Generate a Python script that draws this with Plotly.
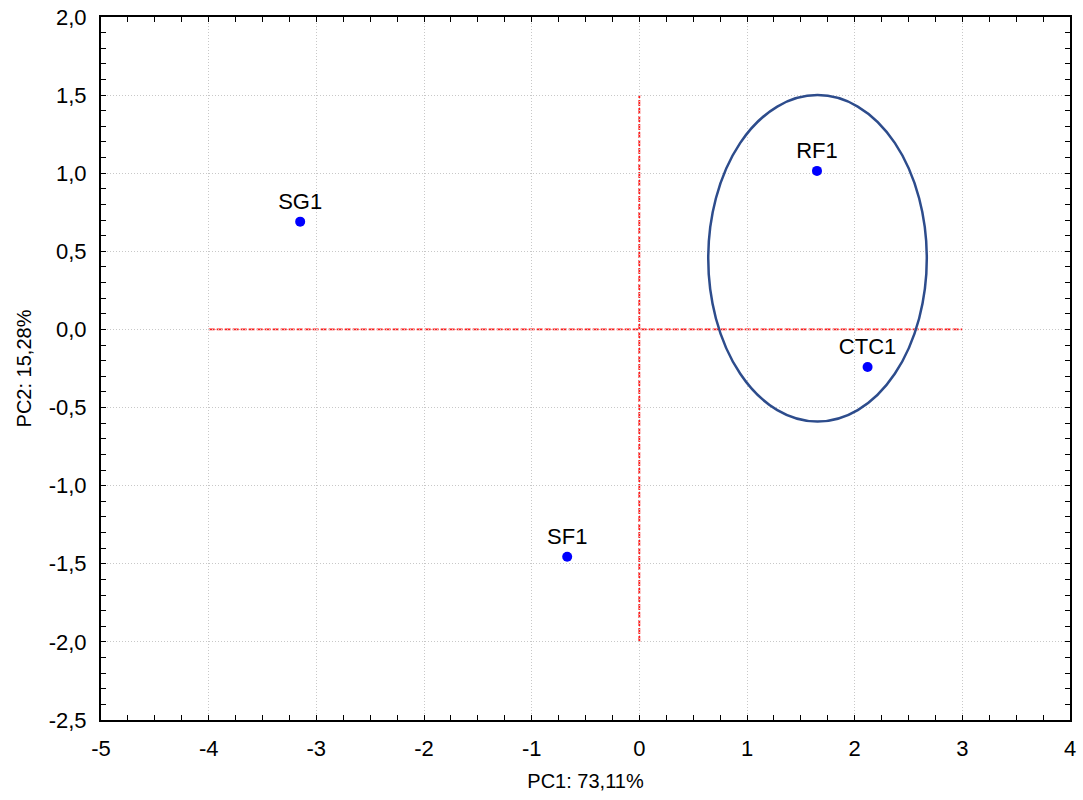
import plotly.graph_objects as go

labels = ["SG1", "SF1", "RF1", "CTC1"]
pc1 = [-3.15, -0.67, 1.65, 2.12]
pc2 = [0.69, -1.455, 1.015, -0.24]

x_ticks = [-5, -4, -3, -2, -1, 0, 1, 2, 3, 4]
x_ticktext = ["-5", "-4", "-3", "-2", "-1", "0", "1", "2", "3", "4"]
y_ticks = [-2.5, -2.0, -1.5, -1.0, -0.5, 0.0, 0.5, 1.0, 1.5, 2.0]
y_ticktext = ["-2,5", "-2,0", "-1,5", "-1,0", "-0,5", "0,0", "0,5", "1,0", "1,5", "2,0"]

# reference lines and ellipse (data coords)
hline = dict(x0=-4, x1=3, y=0)
vline = dict(x=0, y0=-2.0, y1=1.5)
ellipse = dict(x0=0.64, x1=2.67, y0=-0.59, y1=1.5)

FONT = "Liberation Sans, Arial"

fig = go.Figure()
fig.add_trace(go.Scatter(
    x=pc1, y=pc2, mode="markers+text", text=labels,
    textposition="top center",
    textfont=dict(family=FONT, size=22, color="black"),
    marker=dict(color="#0000FF", size=10),
    showlegend=False, cliponaxis=False,
))

fig.add_shape(type="line", x0=hline["x0"], x1=hline["x1"], y0=hline["y"], y1=hline["y"],
              line=dict(color="#FF1a1a", width=1.8, dash="6px,2px"), layer="below")
fig.add_shape(type="line", x0=vline["x"], x1=vline["x"], y0=vline["y0"], y1=vline["y1"],
              line=dict(color="#FF1a1a", width=1.8, dash="6px,2px"), layer="below")
fig.add_shape(type="circle", x0=ellipse["x0"], x1=ellipse["x1"], y0=ellipse["y0"], y1=ellipse["y1"],
              line=dict(color="#2D4C8C", width=2.5))

axis_common = dict(
    showline=True, linecolor="black", linewidth=2, mirror="allticks",
    ticks="inside", ticklen=5, tickcolor="black", tickwidth=1,
    showgrid=True, gridcolor="#c8c8c8", gridwidth=1, griddash="1px,2px",
    zeroline=False, automargin=False,
    tickfont=dict(family=FONT, size=22, color="black"),
)

fig.update_xaxes(
    range=[-5, 4], tickvals=x_ticks, ticktext=x_ticktext,
    minor=dict(dtick=0.25, tick0=0, ticks="inside", ticklen=5, tickcolor="black", showgrid=False),
    title=dict(text="PC1: 73,11%", font=dict(family=FONT, size=20, color="black"), standoff=14),
    ticklabelstandoff=8,
    **axis_common,
)
fig.update_yaxes(
    range=[-2.5, 2.0], tickvals=y_ticks, ticktext=y_ticktext,
    minor=dict(dtick=0.1, tick0=0, ticks="inside", ticklen=5, tickcolor="black", showgrid=False),
    title=dict(text="PC2: 15,28%", font=dict(family=FONT, size=20, color="black"), standoff=12),
    ticklabelstandoff=8,
    **axis_common,
)

fig.update_layout(
    width=1083, height=800,
    margin=dict(l=101, r=13, t=17, b=80),
    plot_bgcolor="white", paper_bgcolor="white",
)

fig.write_html("out.html")
